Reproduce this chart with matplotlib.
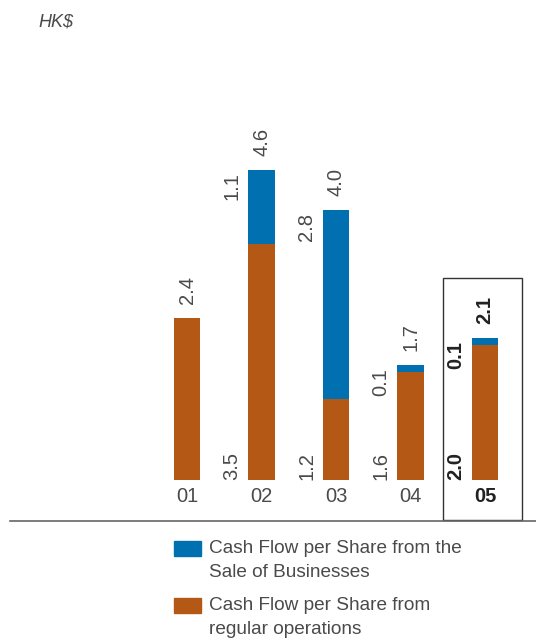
import numpy as np
import matplotlib.pyplot as plt
from matplotlib.patches import Rectangle

plt.rcParams['font.family'] = ['Liberation Sans', 'DejaVu Sans']

# data (HK$ per share)
years = ['01', '02', '03', '04', '05']
regular = [2.4, 3.5, 1.2, 1.6, 2.0]     # cash flow from regular operations
sale = [0.0, 1.1, 2.8, 0.1, 0.1]        # cash flow from sale of businesses
totals = [2.4, 4.6, 4.0, 1.7, 2.1]

BLUE = '#0070B0'
ORANGE = '#B45815'
GREY = '#4a4a4a'

W, H = 536, 638
def px(x, y):
    # pixel position -> figure fraction
    return x / W, 1 - y / H

fig = plt.figure(figsize=(W / 100, H / 100), dpi=100)
# axes: baseline at y=480px, 67.5 px per unit, bars every 74.5 px starting at 187 px
ax = fig.add_axes([0, (H - 480) / H, 1, 420 / H])
ax.set_xlim(-187 / 74.5, (W - 187) / 74.5)
ax.set_ylim(0, 420 / 67.5)

x = np.arange(len(years))
w = 0.35
ax.bar(x, regular, w, color=ORANGE)
ax.bar(x, sale, w, bottom=regular, color=BLUE)

for i in range(len(years)):
    last = i == len(years) - 1
    c = '#222222' if last else GREY
    fw = 'bold' if last else 'normal'
    kw = dict(rotation=90, fontsize=14.5, color=c, fontweight=fw,
              textcoords='offset points')
    ax.annotate(f'{totals[i]:.1f}', (x[i], totals[i]), xytext=(0, 10),
                ha='center', va='bottom', **kw)
    if sale[i] > 0:
        ax.annotate(f'{sale[i]:.1f}', (x[i] - w / 2, totals[i]), xytext=(-5, -2),
                    ha='right', va='top', **kw)
        ax.annotate(f'{regular[i]:.1f}', (x[i] - w / 2, 0), xytext=(-5, 0),
                    ha='right', va='bottom', **kw)

ax.set_xticks(x)
ax.set_xticklabels(years, fontsize=14.5, color=GREY)
ax.tick_params(axis='x', length=0, pad=5)
ax.get_xticklabels()[-1].set_fontweight('bold')
ax.get_xticklabels()[-1].set_color('#222222')
ax.set_yticks([])
for s in ax.spines.values():
    s.set_visible(False)

# base line and highlight box for latest year
ax.axhline(-41 / 67.5, xmin=10 / W, xmax=1, color='#666666', lw=1.2, clip_on=False)
ax.add_patch(Rectangle(((443 - 187) / 74.5, -40 / 67.5), 79 / 74.5, 242 / 67.5,
                       fill=False, ec='#333333', lw=1, clip_on=False))

fig.text(*px(38, 22), 'HK$', fontsize=13, style='italic', color=GREY, va='center')

# legend
legend_items = [(BLUE, 'Cash Flow per Share from the\nSale of Businesses', 541),
                (ORANGE, 'Cash Flow per Share from\nregular operations', 598)]
for col, lab, top in legend_items:
    fig.add_artist(Rectangle(px(174, top + 15), 27 / W, 15 / H, color=col,
                             transform=fig.transFigure))
    fig.text(*px(209, top - 1), lab, fontsize=13.7, color=GREY, va='top',
             linespacing=1.55)

fig.savefig('out.png', dpi=100)
